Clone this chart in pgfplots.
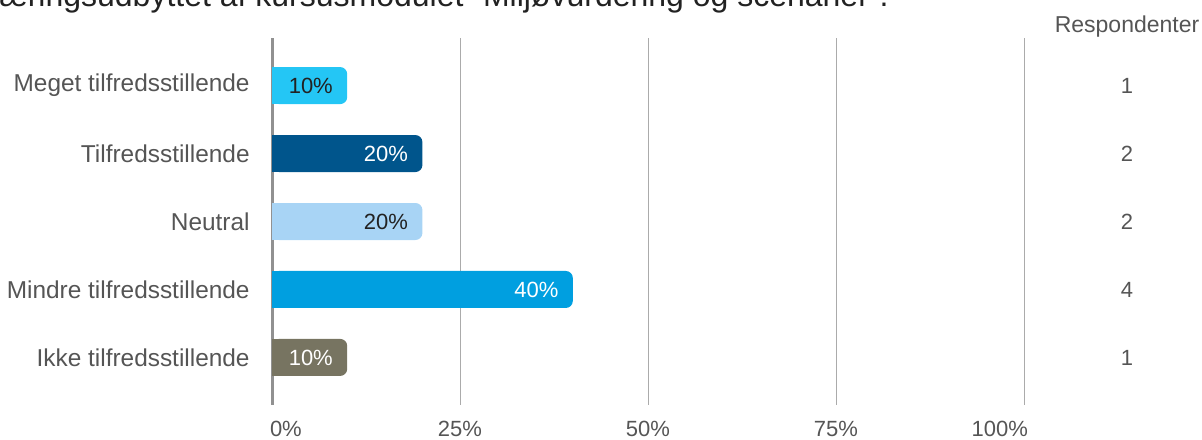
\documentclass[border=0pt]{standalone}
\usepackage{pgfplots}
\pgfplotsset{compat=1.18}
\usepackage{fontspec}
\setmainfont{Liberation Sans}

\definecolor{cMeget}{HTML}{24C6F5}
\definecolor{cTilf}{HTML}{00558C}
\definecolor{cNeutral}{HTML}{A8D4F5}
\definecolor{cMindre}{HTML}{009FE0}
\definecolor{cIkke}{HTML}{777461}
\definecolor{txtgray}{HTML}{555555}
\definecolor{txtdark}{HTML}{222222}
\definecolor{gridgray}{HTML}{ABABAB}

\begin{document}
\begin{tikzpicture}
\useasboundingbox (0,0) rectangle (601pt,219.5pt);
\clip (0,0) rectangle (601pt,219.5pt);

\node[anchor=base east, inner sep=0pt, text=txtdark,
      font=\fontsize{16}{19}\selectfont] at (444.5pt,216pt)
  {æringsudbyttet af kursusmodulet "Miljøvurdering og scenarier".};

\begin{axis}[
  at={(136pt,17pt)}, anchor=south west,
  scale only axis, width=376pt, height=183.5pt,
  xbar, bar width=18.5pt, bar shift=0pt,
  xmin=0, xmax=100, ymin=-0.7, ymax=4.7, y dir=reverse,
  clip=false,
  axis lines*=left,
  x axis line style={draw=none},
  y axis line style={draw=gridgray!85!black, line width=1.5pt},
  major tick length=0pt,
  xmajorgrids, grid style={draw=gridgray, line width=0.5pt},
  xtick={0,25,50,75,100},
  xticklabels={{\makebox[0pt][l]{\kern-1pt 0\%}},25\%,50\%,75\%,{\makebox[0pt][r]{100\%\kern-2pt}}},
  xticklabel style={inner sep=0pt, yshift=-8pt, text=txtgray, font=\fontsize{11}{13}\selectfont},
  ytick={0,1,2,3,4},
  yticklabels={Meget tilfredsstillende, Tilfredsstillende, Neutral, Mindre tilfredsstillende, Ikke tilfredsstillende},
  yticklabel style={anchor=east, inner sep=0pt, xshift=-11pt, text=txtgray, font=\fontsize{12.2}{14}\selectfont},
  /pgf/number format/assume math mode=true,
  point meta=x,
  nodes near coords={\pgfmathprintnumber{\pgfplotspointmeta}\%},
  every node near coord/.style={anchor=east, inner sep=0pt, xshift=-7pt, font=\fontsize{11}{13}\selectfont},
  barstyle/.style={draw=none, fill=#1, rounded corners=3.5pt},
  squarestyle/.style={draw=none, fill=#1, nodes near coords={}},
]
% rounded bars with labels, then a square piece over the left end
\addplot[barstyle=cMeget, every node near coord/.append style={text=txtdark}] coordinates {(10,0)};
\addplot[squarestyle=cMeget] coordinates {(5,0)};
\addplot[barstyle=cTilf, every node near coord/.append style={text=white}] coordinates {(20,1)};
\addplot[squarestyle=cTilf] coordinates {(10,1)};
\addplot[barstyle=cNeutral, every node near coord/.append style={text=txtdark}] coordinates {(20,2)};
\addplot[squarestyle=cNeutral] coordinates {(10,2)};
\addplot[barstyle=cMindre, every node near coord/.append style={text=white}] coordinates {(40,3)};
\addplot[squarestyle=cMindre] coordinates {(20,3)};
\addplot[barstyle=cIkke, every node near coord/.append style={text=white}] coordinates {(10,4)};
\addplot[squarestyle=cIkke] coordinates {(5,4)};

% respondent counts
\addplot[only marks, mark=*, mark size=0pt, draw=none,
  point meta=explicit symbolic,
  nodes near coords={\pgfplotspointmeta},
  every node near coord/.style={anchor=center, inner sep=0pt, text=txtgray, font=\fontsize{11}{13}\selectfont}]
  coordinates {(113.7,0) [1] (113.7,1) [2] (113.7,2) [2] (113.7,3) [4] (113.7,4) [1]};

\node[anchor=base, inner sep=0pt, text=txtgray, font=\fontsize{11.5}{13}\selectfont]
  at (axis cs:113.7,-0.788) {Respondenter};
\end{axis}
\end{tikzpicture}
\end{document}
